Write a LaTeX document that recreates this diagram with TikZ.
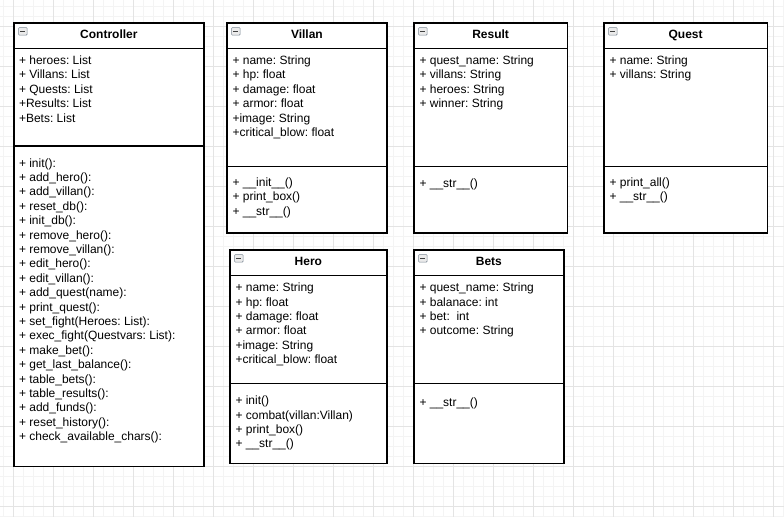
\documentclass[tikz,border=0pt]{standalone}
\usepackage{fontspec}
\setmainfont{Liberation Sans}
\usepackage{tikz}
\frenchspacing

\definecolor{gridlight}{HTML}{F4F4F4}
\definecolor{griddark}{HTML}{E4E4E4}
\definecolor{iconedge}{HTML}{7C8894}

\tikzset{
	classbox/.style={draw, line width=1.2pt, fill=white, inner sep=0pt, anchor=north west},
	classline/.style={line width=1.2pt},
	classtitle/.style={inner sep=0pt, anchor=base, font=\fontsize{12}{14.4}\selectfont\bfseries},
	classtext/.style={inner sep=0pt, anchor=north west, align=left, font=\fontsize{12}{14.4}\selectfont, execute at begin node=\strut},
	foldicon/.style={draw=iconedge, fill=black!8, line width=0.6pt, rounded corners=0.8pt, inner sep=0pt,
		minimum width=8.5pt, minimum height=7.5pt, anchor=north west,
		path picture={\draw[black!75, line width=1pt] ([xshift=1.8pt]path picture bounding box.west) -- ([xshift=-1.8pt]path picture bounding box.east);}}
}

\begin{document}
\begin{tikzpicture}[x=1pt, y=-1pt]

		\useasboundingbox (0,0) rectangle (784,517);
		\fill[white] (0,0) rectangle (784,517);
		\foreach \gx in {3.3,13.3,...,783.3} \draw[gridlight, line width=0.8pt] (\gx,0) -- (\gx,517);
		\foreach \gy in {6.7,16.7,...,516.7} \draw[gridlight, line width=0.8pt] (0,\gy) -- (784,\gy);
		\foreach \gx in {13.3,53.3,...,783.3} \draw[griddark, line width=0.8pt] (\gx,0) -- (\gx,517);
		\foreach \gy in {26.7,66.7,...,516.7} \draw[griddark, line width=0.8pt] (0,\gy) -- (784,\gy);

		\node[classbox, minimum width=190pt, minimum height=443.7pt] (ctrl) at (13.3,22.3) {};
		\node[foldicon] (ctrl-icon) at ([xshift=5pt,yshift=-5pt]ctrl.north west) {};
		\node[classtitle] (ctrl-title) at ([yshift=-16.3pt]ctrl.north) {Controller};
		\draw[classline] ([yshift=-26pt]ctrl.north west) -- ([yshift=-26pt]ctrl.north east);
		\draw[classline] ([yshift=-123.7pt]ctrl.north west) -- ([yshift=-123.7pt]ctrl.north east);
		\node[classtext] (ctrl-attr) at ([xshift=5.5pt,yshift=-33.4pt]ctrl.north west) {+ heroes: List\\+ Villans: List\\+ Quests: List\\+Results: List\\+Bets: List};
		\node[classtext] (ctrl-ops) at ([xshift=5.5pt,yshift=-135.8pt]ctrl.north west) {+ init():\\+ add\_hero():\\+ add\_villan():\\+ reset\_db():\\+ init\_db():\\+ remove\_hero():\\+ remove\_villan():\\+ edit\_hero():\\+ edit\_villan():\\+ add\_quest(name):\\+ print\_quest():\\+ set\_fight(Heroes: List):\\+ exec\_fight(Questvars: List):\\+ make\_bet():\\+ get\_last\_balance():\\+ table\_bets():\\+ table\_results():\\+ add\_funds():\\+ reset\_history():\\+ check\_available\_chars():};

		\node[classbox, minimum width=160pt, minimum height=210pt] (villan) at (226.3,22.3) {};
		\node[foldicon] (villan-icon) at ([xshift=5pt,yshift=-5pt]villan.north west) {};
		\node[classtitle] (villan-title) at ([yshift=-16.3pt]villan.north) {Villan};
		\draw[classline] ([yshift=-26pt]villan.north west) -- ([yshift=-26pt]villan.north east);
		\draw[classline] ([yshift=-144pt]villan.north west) -- ([yshift=-144pt]villan.north east);
		\node[classtext] (villan-attr) at ([xshift=6pt,yshift=-33.4pt]villan.north west) {+ name: String\\+ hp: float\\+ damage: float\\+ armor: float\\+image: String\\+critical\_blow: float};
		\node[classtext] (villan-ops) at ([xshift=6pt,yshift=-155pt]villan.north west) {+ \_\_init\_\_()\\+ print\_box()\\+ \_\_str\_\_()};

		\node[classbox, minimum width=153.4pt, minimum height=210pt] (result) at (413.3,22.3) {};
		\node[foldicon] (result-icon) at ([xshift=5pt,yshift=-5pt]result.north west) {};
		\node[classtitle] (result-title) at ([yshift=-16.3pt]result.north) {Result};
		\draw[classline] ([yshift=-26pt]result.north west) -- ([yshift=-26pt]result.north east);
		\draw[classline] ([yshift=-144pt]result.north west) -- ([yshift=-144pt]result.north east);
		\node[classtext] (result-attr) at ([xshift=6pt,yshift=-33.4pt]result.north west) {+ quest\_name: String\\+ villans: String\\+ heroes: String\\+ winner: String};
		\node[classtext] (result-ops) at ([xshift=6pt,yshift=-155pt]result.north west) {+ \_\_str\_\_()};

		\node[classbox, minimum width=163.4pt, minimum height=210pt] (quest) at (603.3,22.3) {};
		\node[foldicon] (quest-icon) at ([xshift=5pt,yshift=-5pt]quest.north west) {};
		\node[classtitle] (quest-title) at ([yshift=-16.3pt]quest.north) {Quest};
		\draw[classline] ([yshift=-26pt]quest.north west) -- ([yshift=-26pt]quest.north east);
		\draw[classline] ([yshift=-144pt]quest.north west) -- ([yshift=-144pt]quest.north east);
		\node[classtext] (quest-attr) at ([xshift=6pt,yshift=-33.4pt]quest.north west) {+ name: String\\+ villans: String};
		\node[classtext] (quest-ops) at ([xshift=6pt,yshift=-155pt]quest.north west) {+ print\_all()\\+ \_\_str\_\_()};

		\node[classbox, minimum width=157pt, minimum height=213.7pt] (hero) at (229.3,249.3) {};
		\node[foldicon] (hero-icon) at ([xshift=5pt,yshift=-5pt]hero.north west) {};
		\node[classtitle] (hero-title) at ([yshift=-16.3pt]hero.north) {Hero};
		\draw[classline] ([yshift=-26pt]hero.north west) -- ([yshift=-26pt]hero.north east);
		\draw[classline] ([yshift=-134.4pt]hero.north west) -- ([yshift=-134.4pt]hero.north east);
		\node[classtext] (hero-attr) at ([xshift=6pt,yshift=-33.4pt]hero.north west) {+ name: String\\+ hp: float\\+ damage: float\\+ armor: float\\+image: String\\+critical\_blow: float};
		\node[classtext] (hero-ops) at ([xshift=6pt,yshift=-146.5pt]hero.north west) {+ init()\\+ combat(villan:Villan)\\+ print\_box()\\+ \_\_str\_\_()};

		\node[classbox, minimum width=150pt, minimum height=213.7pt] (bets) at (413.3,249.3) {};
		\node[foldicon] (bets-icon) at ([xshift=5pt,yshift=-5pt]bets.north west) {};
		\node[classtitle] (bets-title) at ([yshift=-16.3pt]bets.north) {Bets};
		\draw[classline] ([yshift=-26pt]bets.north west) -- ([yshift=-26pt]bets.north east);
		\draw[classline] ([yshift=-134.4pt]bets.north west) -- ([yshift=-134.4pt]bets.north east);
		\node[classtext] (bets-attr) at ([xshift=6pt,yshift=-33.4pt]bets.north west) {+ quest\_name: String\\+ balanace: int\\+ bet:\ \ int\\+ outcome: String};
		\node[classtext] (bets-ops) at ([xshift=6pt,yshift=-146.5pt]bets.north west) {+ \_\_str\_\_()};

	\end{tikzpicture}
\end{document}
